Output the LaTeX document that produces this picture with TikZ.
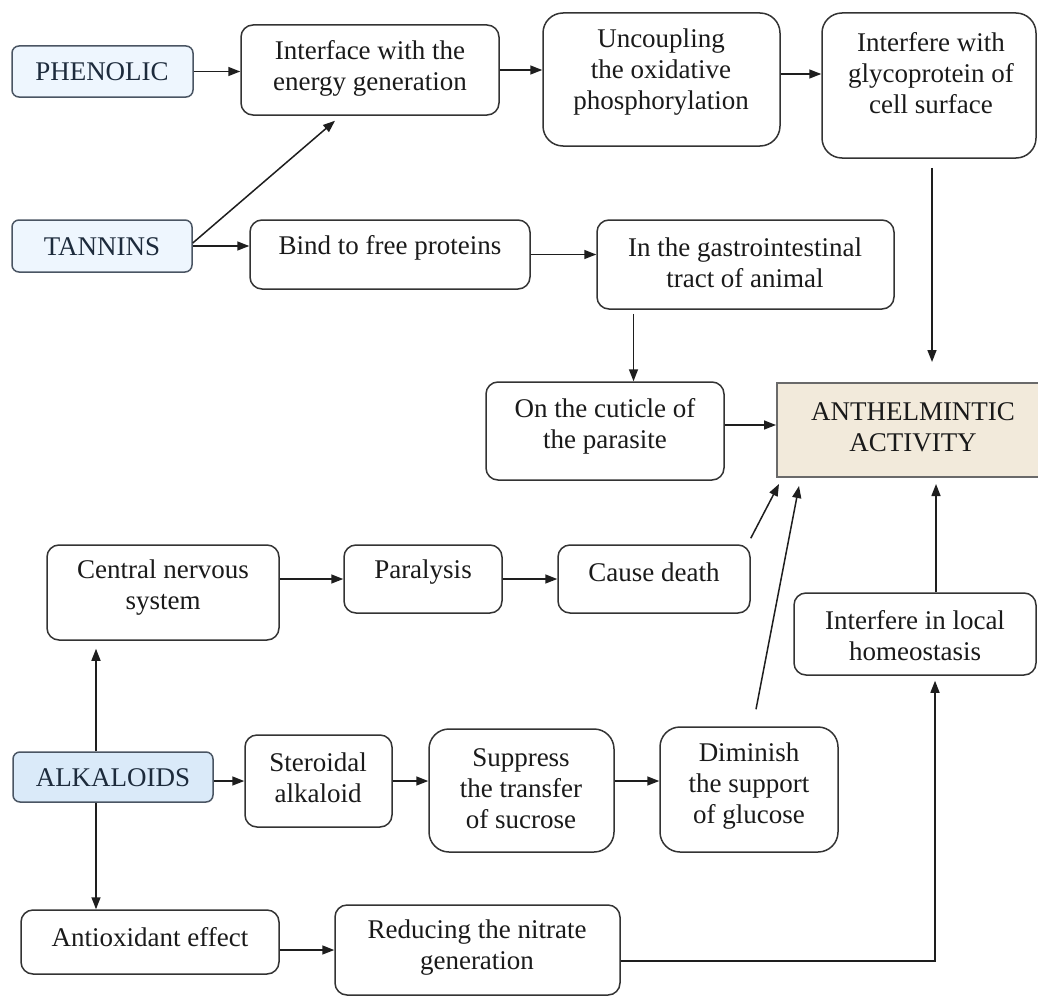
\documentclass[tikz,border=0pt]{standalone}
\usepackage{fontspec}
\setmainfont{Liberation Serif}
\usetikzlibrary{arrows.meta,calc}
\definecolor{lineC}{HTML}{1E1E1E}
\definecolor{boxC}{HTML}{333333}
\definecolor{catFillA}{HTML}{EEF6FE}
\definecolor{catFillB}{HTML}{DAEAF9}
\definecolor{catText}{HTML}{1D2B3C}
\definecolor{anthFill}{HTML}{F2EADB}
\definecolor{anthDraw}{HTML}{6A6A6A}
\definecolor{txtC}{HTML}{1A1A1A}
\tikzset{
  rbox/.style={draw=boxC, line width=1.5pt, rounded corners=12pt, inner sep=0pt, fill=white},
  rboxbig/.style={rbox, rounded corners=20pt},
  catbox/.style={draw=catText!80, line width=1.5pt, rounded corners=7pt, inner sep=0pt},
  anthbox/.style={draw=anthDraw, fill=anthFill, line width=2pt, inner sep=0pt},
  txt/.style={align=center, text=txtC, inner sep=0pt, font=\fontsize{27}{31}\selectfont},
  cattxt/.style={txt, text=catText},
  arr/.style={draw=lineC, line width=1.5pt, -{Triangle[length=12pt,width=9pt]}},
}
\newcommand{\boxat}[6]{% style, name, x1, y1, x2, y2
  \node[#1, minimum width={(#5-#3)*1pt}, minimum height={(#6-#4)*1pt}] (#2) at ({(#3+#5)/2},{(#4+#6)/2}) {};
}
\begin{document}
\begin{tikzpicture}[x=1pt,y=-1pt]
\useasboundingbox[fill=white] (0,0) rectangle (1038,998);

% boxes
\boxat{catbox,fill=catFillA}{phen}{12}{46}{193}{97}
\boxat{rbox}{interf}{241}{25}{499}{115}
\boxat{rboxbig}{uncoup}{543}{13}{780}{146}
\boxat{rboxbig}{glyco}{822}{13}{1036}{158}
\boxat{catbox,fill=catFillA}{tann}{12}{220}{192}{272}
\boxat{rbox}{bind}{250}{220}{530}{289}
\boxat{rbox}{gastro}{597}{220}{894}{309}
\boxat{rbox}{cuticle}{486}{382}{724}{480}
\boxat{anthbox}{anth}{777}{383}{1046}{477}
\boxat{rbox}{cns}{47}{545}{279}{640}
\boxat{rbox}{para}{344}{545}{502}{613}
\boxat{rbox}{death}{558}{545}{750}{613}
\boxat{rbox}{homeo}{794}{593}{1036}{675}
\boxat{catbox,fill=catFillB}{alk}{13}{752}{213}{802}
\boxat{rbox}{ster}{245}{735}{392}{827}
\boxat{rboxbig}{supp}{429}{729}{614}{852}
\boxat{rboxbig}{dimin}{660}{727}{838}{852}
\boxat{rbox}{antiox}{21}{910}{279}{974}
\boxat{rbox}{reduc}{335}{905}{620}{995}

% texts
\node[cattxt] (tphen) at (102,72) {PHENOLIC};
\node[txt] (tinterf) at (370,68) {Interface with the\\energy generation};
\node[txt] (tuncoup) at (661,72) {Uncoupling\\the oxidative\\phosphorylation};
\node[txt] (tglyco) at (931,73) {Interfere with\\glycoprotein of\\cell surface};
\node[cattxt] (ttann) at (102,247) {TANNINS};
\node[txt] (tbind) at (390,248) {Bind to free proteins};
\node[txt] (tgastro) at (745,263) {In the gastrointestinal\\tract of animal};
\node[txt] (tcut) at (605,426) {On the cuticle of\\the parasite};
\node[txt] (tanth) at (913,427) {ANTHELMINTIC\\ACTIVITY};
\node[txt] (tcns) at (163,588) {Central nervous\\system};
\node[txt] (tpara) at (423,572) {Paralysis};
\node[txt] (tdeath) at (654,572) {Cause death};
\node[txt] (thomeo) at (915,636) {Interfere in local\\homeostasis};
\node[cattxt] (talk) at (113,778) {ALKALOIDS};
\node[txt] (tster) at (318,778) {Steroidal\\alkaloid};
\node[txt] (tsupp) at (521,789) {Suppress\\the transfer\\of sucrose};
\node[txt] (tdimin) at (749,786) {Diminish\\the support\\of glucose};
\node[txt] (tantiox) at (150,937) {Antioxidant effect};
\node[txt] (treduc) at (477,948) {Reducing the nitrate\\generation};

% helper coordinates
\coordinate (gS) at ($(gastro.south)+(-112,0)$);
\coordinate (glS) at ($(glyco.south)+(3,0)$);
\coordinate (hN) at ($(homeo.north)+(21,0)$);
\coordinate (hS) at ($(homeo.south)+(20,0)$);
\coordinate (aN) at ($(alk.north)+(-17,0)$);
\coordinate (aS) at ($(alk.south)+(-17,0)$);

% connectors
\draw[arr] (phen.east) -- (phen.east -| interf.west);
\draw[arr] (interf.east) -- (interf.east -| uncoup.west);
\draw[arr] ([yshift=5.5pt]uncoup.east) -- ([yshift=5.5pt]uncoup.east -| glyco.west);
\draw[arr] ([yshift=3pt]tann.east) -- ($(interf.south)+(-35,5)$);
\draw[arr] (tann.east) -- (tann.east -| bind.west);
\draw[arr] (bind.east) -- (bind.east -| gastro.west);
\draw[arr, shorten <=4pt] (gS) -- (gS |- cuticle.north);
\draw[arr, shorten <=9pt, shorten >=20pt] (glS) -- (glS |- anth.north);
\draw[arr] ([yshift=6pt]cuticle.east) -- ([yshift=6pt]cuticle.east -| anth.west);
\draw[arr] (cns.east |- para.west) -- (para.west);
\draw[arr] (para.east) -- (para.east -| death.west);
\draw[arr] ($(death.north east)+(0,-6)$) -- ($(anth.south west)+(3,6)$);
\draw[arr] ($(dimin.north)+(7,-17)$) -- ($(anth.south west)+(23,8)$);
\draw[arr, shorten >=6pt] (hN) -- (hN |- anth.south);
\draw[arr, shorten >=5pt] ([yshift=-11pt]reduc.east) -| (hS);
\draw[arr, shorten >=8pt] (aN) -- (aN |- cns.south);
\draw[arr] (aS) -- (aS |- antiox.north);
\draw[arr] (alk.east |- ster.west) -- (ster.west);
\draw[arr] (ster.east) -- (ster.east -| supp.west);
\draw[arr] (ster.east -| supp.east) -- (ster.east -| dimin.west);
\draw[arr] (antiox.east |- reduc.west) -- (reduc.west);
\end{tikzpicture}
\end{document}
